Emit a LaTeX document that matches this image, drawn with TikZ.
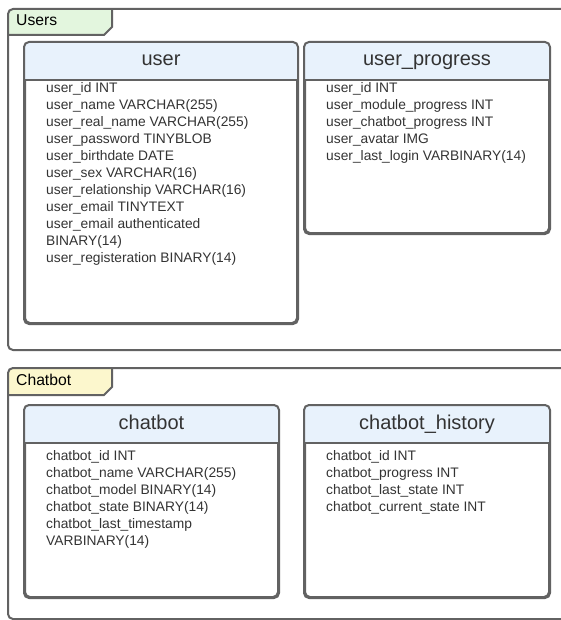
\documentclass[tikz,border=0pt]{standalone}
\usepackage{fontspec}
\setmainfont{Liberation Sans}
\usepackage{tikz}
\usetikzlibrary{calc}

\definecolor{linegray}{HTML}{626262}
\definecolor{txtgray}{HTML}{333333}
\definecolor{headblue}{HTML}{E8F2FC}
\definecolor{tabgreen}{HTML}{E3F6DE}
\definecolor{tabyellow}{HTML}{FCF7CD}

\tikzset{
  frame/.style={draw=linegray, line width=2pt, rounded corners=5pt},
  tbl/.style={draw=linegray, line width=2pt, rounded corners=5pt, anchor=north west, inner sep=0pt},
  rule/.style={draw=linegray, line width=2pt},
  title/.style={font=\fontsize{20}{24}\selectfont, text=txtgray, anchor=base, inner sep=0pt},
  tablabel/.style={font=\fontsize{15.7}{18}\selectfont, text=black, anchor=base west, inner sep=0pt},
  fields/.style={font=\fontsize{13.8}{17}\selectfont, text=txtgray, align=left, anchor=north west, inner sep=0pt},
}

\begin{document}
\begin{tikzpicture}[x=1pt, y=-1pt]
                \useasboundingbox (0,0) rectangle (561,620);
                \clip (0,0) rectangle (561,620);
                % Users group
                \begin{scope}
                  \clip[rounded corners=5pt] (8,9) rectangle (600,350);
                  \fill[tabgreen] (8,9) -- (112,9) -- (112,27) -- (104,35) -- (8,35) -- cycle;
                \end{scope}
                \draw[frame] (8,9) rectangle (600,350);
                \draw[rule] (112,9) -- (112,27) -- (104,35) -- (8,35);
                \node[tablabel] (userslabel) at (16,26) {Users};
                % Chatbot group
                \begin{scope}
                  \clip[rounded corners=5pt] (8,368) rectangle (600,619);
                  \fill[tabyellow] (8,368) -- (112,368) -- (112,387) -- (104,395) -- (8,395) -- cycle;
                \end{scope}
                \draw[frame] (8,368) rectangle (600,619);
                \draw[rule] (112,368) -- (112,387) -- (104,395) -- (8,395);
                \node[tablabel] (chatbotlabel) at (16,385) {Chatbot};
                % tables
                \node[tbl, minimum width=272pt, minimum height=280pt] (user) at (24,42) {};
                \node[tbl, minimum width=244pt, minimum height=190pt] (progress) at (304,42) {};
                \node[tbl, minimum width=253pt, minimum height=191pt] (chatbot) at (24,405) {};
                \node[tbl, minimum width=244pt, minimum height=191pt] (history) at (304,405) {};
                \foreach \t in {user, progress, chatbot, history} {
                  \begin{scope}
                    \clip[rounded corners=5pt] (\t.north west) rectangle (\t.south east);
                    \fill[headblue] (\t.north west) rectangle ($(\t.north east)+(0,38)$);
                  \end{scope}
                  \draw[tbl] (\t.north west) rectangle (\t.south east);
                  \draw[rule] ($(\t.north west)+(0,38)$) -- ($(\t.north east)+(0,38)$);
                }
                \node[title] (usertitle) at ($(user.north)+(0,24)$) {user};
                \node[title] (progresstitle) at ($(progress.north)+(0,24)$) {user\_progress};
                \node[title] (chatbottitle) at ($(chatbot.north)+(0,24)$) {chatbot};
                \node[title] (historytitle) at ($(history.north)+(0,24)$) {chatbot\_history};
                \node[fields] (userfields) at (46,82) {user\_id INT\\
                  user\_name VARCHAR(255)\\
                  user\_real\_name VARCHAR(255)\\
                  user\_password TINYBLOB\\
                  user\_birthdate DATE\\
                  user\_sex VARCHAR(16)\\
                  user\_relationship VARCHAR(16)\\
                  user\_email TINYTEXT\\
                  user\_email authenticated\\
                  BINARY(14)\\
                  user\_registeration BINARY(14)};
                \node[fields] (progressfields) at (326,82) {user\_id INT\\
                  user\_module\_progress INT\\
                  user\_chatbot\_progress INT\\
                  user\_avatar IMG\\
                  user\_last\_login VARBINARY(14)};
                \node[fields] (chatbotfields) at (46,450) {chatbot\_id INT\\
                  chatbot\_name VARCHAR(255)\\
                  chatbot\_model BINARY(14)\\
                  chatbot\_state BINARY(14)\\
                  chatbot\_last\_timestamp\\
                  VARBINARY(14)};
                \node[fields] (historyfields) at (326,450) {chatbot\_id INT\\
                  chatbot\_progress INT\\
                  chatbot\_last\_state INT\\
                  chatbot\_current\_state INT};
            \end{tikzpicture}
\end{document}
